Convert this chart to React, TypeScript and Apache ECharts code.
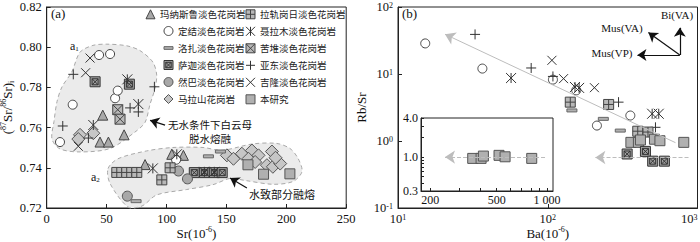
import React, { useEffect, useRef } from 'react';
import * as echarts from 'echarts';

const SERIF = '"Liberation Serif", "DejaVu Serif", serif';
const CJK = '"Noto Sans CJK SC", "Noto Sans", sans-serif';

// ---------------- names ----------------
const NAMES: Record<string, string> = {
  manaslu: '玛纳斯鲁淡色花岗岩',
  lagoi: '拉轨岗日淡色花岗岩',
  dingjie: '定结淡色花岗岩',
  nyalam: '聂拉木淡色花岗岩',
  lhozhag: '洛扎淡色花岗岩',
  kuday: '苦堆淡色花岗岩',
  sakya: '萨迦淡色花岗岩',
  yadong: '亚东淡色花岗岩',
  ranba: '然巴淡色花岗岩',
  gyirong: '吉隆淡色花岗岩',
  malashan: '马拉山花岗岩',
  study: '本研究',
};

// ---------------- panel (a): Sr (10^-6) vs (87Sr/86Sr)i ----------------
const aManaslu = [[46.8, 0.7662], [44.5, 0.7528], [51.5, 0.7528], [64.6, 0.7564], [82.1, 0.7416], [104.4, 0.7467], [114.1, 0.7462]];
const aDingjie = [[43.7, 0.7961], [52.9, 0.7966], [21.7, 0.7714], [57.1, 0.7746], [59.3, 0.7784], [11.1, 0.7528], [108.0, 0.7440]];
const aLhozhag = [[135.0, 0.7457], [74.6, 0.7234], [145.0, 0.7481]];
const aSakya = [[40.4, 0.7828], [69.0, 0.7816], [123.2, 0.7376], [131.6, 0.7376], [139.9, 0.7376], [146.5, 0.7376]];
const aKuday = [[59.3, 0.7689], [61.2, 0.7642]];
const aRanba = [[110.0, 0.7384], [117.5, 0.7345], [67.3, 0.7259]];
const aMalashan = [[27.8, 0.7564], [26.4, 0.7543], [38.9, 0.7572], [150.4, 0.7462], [155.9, 0.7445], [162.9, 0.7470], [171.3, 0.7486], [168.4, 0.7445], [176.8, 0.7462], [174.0, 0.7429], [188.0, 0.7481], [183.8, 0.7413], [188.8, 0.7405], [194.9, 0.7421], [191.0, 0.7450]];
const aLagoi = [[58.5, 0.7377], [66.8, 0.7377], [75.2, 0.7377], [96.1, 0.7340], [103.0, 0.7400]];
const aNyalam = [[76.5, 0.7717], [38.9, 0.7613], [88.6, 0.7397], [108.6, 0.7467], [131.6, 0.7380], [139.9, 0.7380], [67.3, 0.7840]];
const aYadong = [[22.2, 0.7865], [89.9, 0.7803], [69.6, 0.7698], [76.5, 0.7678], [13.4, 0.7608], [34.8, 0.7548]];
const aGyirong = [[36.2, 0.7946], [32.5, 0.7873], [26.4, 0.7507]];
const aStudy = [[168.0, 0.7415], [181.0, 0.7368], [203.0, 0.7370]];

// field outlines in (a)
const a1Outline = [[20.9, 0.7876], [27.8, 0.7975], [38.6, 0.8009], [50.3, 0.8015], [66.8, 0.8007], [77.9, 0.7983], [88.7, 0.7925], [91.8, 0.7862], [90.4, 0.7795], [86.2, 0.7715], [82.1, 0.7626], [73.7, 0.7578], [52.8, 0.7496], [27.8, 0.7479], [11.1, 0.7494], [4.4, 0.7543], [6.1, 0.7631], [8.6, 0.7729], [12.8, 0.7803]];
const a2Outline = [[51.2, 0.7396], [59.5, 0.7445], [83.5, 0.7484], [105.4, 0.7501], [130.5, 0.7501], [146.3, 0.7487], [172.2, 0.7519], [192.2, 0.7521], [203.1, 0.7496], [209.8, 0.7447], [213.1, 0.7381], [205.6, 0.7332], [188.9, 0.7318], [165.5, 0.7337], [153.0, 0.7347], [138.8, 0.7316], [116.9, 0.7292], [91.8, 0.7265], [79.6, 0.7210], [67.9, 0.7205], [52.8, 0.7323]];
const aArrows = [[[98.8, 0.7612], [86.3, 0.7636]], [[167.1, 0.7300], [153.1, 0.7349]]];

// ---------------- panel (b): Ba (10^-6) vs Rb/Sr ----------------
const bDingjie = [[15.2, 28.6], [36.6, 12.05], [108.3, 8.24], [155, 5.7], [356, 2.4], [213, 1.7]];
const bYadong = [[32.7, 39.0], [77.5, 12.3], [108.3, 9.2], [297, 3.8], [524, 1.6]];
const bNyalam = [[56.9, 8.71], [152, 6.4], [162, 6.2], [498, 2.55], [551, 2.55]];
const bGyirong = [[106.6, 16.0], [127.5, 8.53], [205, 6.25]];
const bLagoi = [[141.4, 3.8], [255, 3.51], [399, 1.4], [467, 1.36]];
const bLhozhag = [[145, 2.86], [235, 2.14], [305, 1.43]];
const bSakya = [[339, 0.64], [449, 0.70], [502, 0.50], [601, 0.50]];
const studyBa = [359, 403, 416, 516, 561, 810];
const studyRbSr = [0.954, 0.954, 1.036, 1.063, 1.01, 0.954];

const bTrend = [[713, 0.944], [20.6, 39.2]];
const bDashed = [[871, 0.568], [208, 0.568]];
const bVectorOrigin = [762, 19.2];
const bVectorEnds = [[762, 49.1], [470, 41.5], [397, 19.2]];

// inset
const insetBaRange = [176, 1086];
const insetRatioRange = [0.3, 4.0];
const insetBaLabels = [200, 500, 1000];
const insetBaTicks = [200, 300, 400, 500, 600, 700, 800, 900, 1000];
const insetRatioLabels = [0.3, 1.0, 4.0];
const insetRatioTicks = [0.3, 0.4, 0.5, 0.6, 0.7, 0.8, 0.9, 1, 2, 3, 4];
const insetArrow = [[973, 1.0], [245, 1.0]];

// ---------------- symbol styles ----------------
const STY: Record<string, any> = {
  manaslu: { symbol: 'triangle', size: 10, fill: '#a9a9a9', stroke: '#444' },
  lagoi: { symbol: 'path://M0,0H10V10H0Z M5,0V10 M0,5H10', size: 10, fill: '#b8b8b8', stroke: '#444' },
  dingjie: { symbol: 'circle', size: 9, fill: '#ffffff', stroke: '#444' },
  nyalam: { symbol: 'path://M0,0L10,10M10,0L0,10M5,0V10', size: 10, fill: 'rgba(0,0,0,0)', stroke: '#333' },
  lhozhag: { symbol: 'path://M0,0M10,10M0,3.5H10V6.5H0Z', size: 10, fill: '#b0b0b0', stroke: '#666' },
  kuday: { symbol: 'path://M0,0H10V10H0Z M0,0L10,10 M10,0L0,10', size: 10, fill: '#b8b8b8', stroke: '#444' },
  sakya: { symbol: 'path://M0,0H10V10H0Z M2,2H8V8H2Z M2,2L8,8 M8,2L2,8', size: 10, fill: '#a0a0a0', stroke: '#333' },
  yadong: { symbol: 'path://M5,0V10M0,5H10', size: 10, fill: 'rgba(0,0,0,0)', stroke: '#333' },
  ranba: { symbol: 'circle', size: 10, fill: '#a8a8a8', stroke: '#555' },
  gyirong: { symbol: 'path://M0,0L10,10M10,0L0,10', size: 9, fill: 'rgba(0,0,0,0)', stroke: '#333' },
  malashan: { symbol: 'diamond', size: 13, fill: '#c6c6c6', stroke: '#555' },
  study: { symbol: 'rect', size: 10, fill: '#b0b0b0', stroke: '#555' },
};

const lg = Math.log10;

function scatter(key: string, data: number[][], idx: number) {
  const s = STY[key];
  return {
    type: 'scatter',
    name: NAMES[key],
    xAxisIndex: idx,
    yAxisIndex: idx,
    data,
    symbol: s.symbol,
    symbolSize: s.size,
    itemStyle: { color: s.fill, borderColor: s.stroke, borderWidth: 1, opacity: 1 },
    emphasis: { disabled: true },
    z: 3,
  };
}

function region(outline: number[][]) {
  return {
    type: 'custom',
    xAxisIndex: 0,
    yAxisIndex: 0,
    silent: true,
    z: 1,
    data: [outline[0]],
    renderItem: (_p: any, api: any) => ({
      type: 'polygon',
      shape: { points: outline.map((p) => api.coord(p)), smooth: 0.3 },
      style: { fill: '#ebebeb', stroke: '#a9a9a9', lineWidth: 1, lineDash: [4, 3] },
    }),
  };
}

function arrows(idx: number, list: number[][][], color: string, type: string, width: number, size: number) {
  return {
    type: 'lines',
    coordinateSystem: 'cartesian2d',
    xAxisIndex: idx,
    yAxisIndex: idx,
    silent: true,
    z: 4,
    symbol: ['none', 'arrow'],
    symbolSize: size,
    lineStyle: { color, width, type, opacity: 1, curveness: 0 },
    data: list.map((c) => ({ coords: c })),
  };
}

const axisColor = '#222';
const supRich = {
  sup: { fontFamily: SERIF, fontSize: 8, color: '#111', verticalAlign: 'top', lineHeight: 8 },
  sub: { fontFamily: SERIF, fontSize: 8, color: '#111', verticalAlign: 'bottom', lineHeight: 8 },
};
const nameStyle = { fontFamily: SERIF, fontSize: 13, color: '#111', lineHeight: 16, rich: supRich };
const labelStyle = { fontFamily: SERIF, fontSize: 12.5, color: '#111', margin: 5, lineHeight: 12 };
const lineCfg = { show: true, onZero: false, lineStyle: { color: axisColor, width: 1 } };
const tickCfg = { show: true, inside: true, length: 4, lineStyle: { color: axisColor } };

const GRID_TOP = 7;
const GRID_H = 201;

function buildOption() {
  const pow10Label = (v: number) => '10{sup|' + Math.round(lg(v)) + '}';
  const legendCommon = {
    orient: 'vertical',
    itemWidth: 9,
    itemHeight: 9,
    itemGap: 7,
    padding: 0,
    selectedMode: false,
    textStyle: { fontFamily: CJK, fontSize: 9.5, color: '#222' },
    itemStyle: { borderWidth: 1 },
  };
  const study = studyBa.map((b, i) => [b, studyRbSr[i]]);
  const studyInset = studyBa.map((b, i) => [lg(b), lg(studyRbSr[i])]);

  return {
    animation: false,
    backgroundColor: '#ffffff',
    grid: [
      { left: 46.7, top: GRID_TOP, width: 299.5, height: GRID_H, show: true, borderColor: axisColor, borderWidth: 1, backgroundColor: 'transparent', outerBoundsMode: 'none', containLabel: false },
      { left: 398, top: GRID_TOP, width: 299.5, height: GRID_H, show: true, borderColor: axisColor, borderWidth: 1, backgroundColor: 'transparent', outerBoundsMode: 'none', containLabel: false },
      { left: 421, top: 118, width: 132, height: 73, show: true, borderColor: axisColor, borderWidth: 1, backgroundColor: '#ffffff', outerBoundsMode: 'none', containLabel: false },
    ],
    xAxis: [
      {
        gridIndex: 0, type: 'value', min: 0, max: 250, interval: 50,
        axisLine: lineCfg, axisTick: tickCfg, splitLine: { show: false },
        axisLabel: labelStyle,
        name: 'Sr(10{sup|-6})', nameLocation: 'middle', nameGap: 17, nameTextStyle: nameStyle, nameMoveOverlap: false,
      },
      {
        gridIndex: 1, type: 'log', logBase: 10, min: 10, max: 1000,
        axisLine: lineCfg, axisTick: tickCfg, splitLine: { show: false }, minorTick: { show: false },
        axisLabel: { ...labelStyle, formatter: pow10Label, rich: supRich, alignMaxLabel: 'right' },
        name: 'Ba(10{sup|-6})', nameLocation: 'middle', nameGap: 17, nameTextStyle: nameStyle, nameMoveOverlap: false,
      },
      {
        gridIndex: 2, type: 'value', min: lg(insetBaRange[0]), max: lg(insetBaRange[1]),
        axisLine: lineCfg,
        axisTick: { ...tickCfg, length: 3, customValues: insetBaTicks.map(lg) },
        splitLine: { show: false },
        axisLabel: {
          fontFamily: SERIF, fontSize: 12, color: '#111', margin: 3,
          customValues: insetBaLabels.map(lg),
          formatter: (v: number) => { const r = Math.round(Math.pow(10, v)); return r >= 1000 ? '1 000' : String(r); },
        },
      },
    ],
    yAxis: [
      {
        gridIndex: 0, type: 'value', min: 0.72, max: 0.82, interval: 0.02,
        axisLine: lineCfg, axisTick: tickCfg, splitLine: { show: false },
        axisLabel: { ...labelStyle, formatter: (v: number) => v.toFixed(2) },
        name: '({sup|87}Sr/{sup|86}Sr){sub|i}', nameLocation: 'middle', nameGap: 31, nameTextStyle: nameStyle, nameMoveOverlap: false,
      },
      {
        gridIndex: 1, type: 'log', logBase: 10, min: 0.1, max: 100,
        axisLine: lineCfg, axisTick: tickCfg, splitLine: { show: false }, minorTick: { show: false },
        axisLabel: { ...labelStyle, formatter: pow10Label, rich: supRich },
        name: 'Rb/Sr', nameLocation: 'middle', nameGap: 29, nameTextStyle: nameStyle, nameMoveOverlap: false,
      },
      {
        gridIndex: 2, type: 'value', min: lg(insetRatioRange[0]), max: lg(insetRatioRange[1]),
        axisLine: lineCfg,
        axisTick: { ...tickCfg, length: 3, customValues: insetRatioTicks.map(lg) },
        splitLine: { show: false },
        axisLabel: {
          fontFamily: SERIF, fontSize: 12, color: '#111', margin: 3,
          customValues: insetRatioLabels.map(lg),
          formatter: (v: number) => Math.pow(10, v).toFixed(1),
        },
      },
    ],
    legend: [
      { ...legendCommon, left: 145.5, top: 9.3, data: [NAMES.manaslu] },
      { ...legendCommon, left: 163.5, top: 26, data: [NAMES.dingjie, NAMES.lhozhag, NAMES.sakya, NAMES.ranba, NAMES.malashan] },
      { ...legendCommon, left: 245.5, top: 9.3, data: [NAMES.lagoi, NAMES.nyalam, NAMES.kuday, NAMES.yadong, NAMES.gyirong, NAMES.study] },
    ],
    graphic: [
      { type: 'text', left: 51, top: 7, style: { text: '(a)', font: `13px ${SERIF}`, fill: '#111' } },
      { type: 'text', left: 402, top: 7, style: { text: '(b)', font: `13px ${SERIF}`, fill: '#111' } },
      { type: 'text', left: 70, top: 40, style: { text: 'a{sub|1}', font: `12px ${SERIF}`, fill: '#111', rich: { sub: { fontSize: 7, fontFamily: SERIF, verticalAlign: 'bottom', fill: '#111' } } } },
      { type: 'text', left: 91, top: 171, style: { text: 'a{sub|2}', font: `12px ${SERIF}`, fill: '#111', rich: { sub: { fontSize: 7, fontFamily: SERIF, verticalAlign: 'bottom', fill: '#111' } } } },
      { type: 'text', x: 210, y: 131, style: { text: '无水条件下白云母\n脱水熔融', font: `10.5px ${CJK}`, fill: '#111', align: 'center', verticalAlign: 'middle', lineHeight: 14 } },
      { type: 'text', x: 282, y: 194, style: { text: '水致部分融熔', font: `11px ${CJK}`, fill: '#111', align: 'center', verticalAlign: 'middle' } },
      { type: 'text', x: 677, y: 15, style: { text: 'Bi(VA)', font: `11px ${SERIF}`, fill: '#111', align: 'center', verticalAlign: 'middle' } },
      { type: 'text', x: 622, y: 28, style: { text: 'Mus(VA)', font: `11px ${SERIF}`, fill: '#111', align: 'center', verticalAlign: 'middle' } },
      { type: 'text', x: 612, y: 53, style: { text: 'Mus(VP)', font: `11px ${SERIF}`, fill: '#111', align: 'center', verticalAlign: 'middle' } },
    ],
    series: [
      region(a1Outline),
      region(a2Outline),
      scatter('malashan', aMalashan, 0),
      scatter('manaslu', aManaslu, 0),
      scatter('dingjie', aDingjie, 0),
      scatter('lhozhag', aLhozhag, 0),
      scatter('kuday', aKuday, 0),
      scatter('sakya', aSakya, 0),
      scatter('ranba', aRanba, 0),
      scatter('lagoi', aLagoi, 0),
      scatter('nyalam', aNyalam, 0),
      scatter('yadong', aYadong, 0),
      scatter('gyirong', aGyirong, 0),
      scatter('study', aStudy, 0),
      arrows(0, aArrows, '#111', 'solid', 1.2, 9),

      arrows(1, [bTrend], '#bdbdbd', 'solid', 1, 10),
      arrows(1, [bDashed], '#bdbdbd', 'dashed', 1, 10),
      arrows(1, bVectorEnds.map((e) => [bVectorOrigin, e]), '#111', 'solid', 1.2, 9),
      scatter('dingjie', bDingjie, 1),
      scatter('yadong', bYadong, 1),
      scatter('nyalam', bNyalam, 1),
      scatter('gyirong', bGyirong, 1),
      scatter('lhozhag', bLhozhag, 1),
      scatter('lagoi', bLagoi, 1),
      scatter('study', study, 1),
      scatter('sakya', bSakya, 1),

      arrows(2, [insetArrow.map((p) => [lg(p[0]), lg(p[1])])], '#bdbdbd', 'dashed', 1, 10),
      scatter('study', studyInset, 2),
    ],
  };
}

export default function App() {
  const ref = useRef<HTMLDivElement>(null);
  useEffect(() => {
    if (!ref.current) return;
    const chart = echarts.init(ref.current, null, { renderer: 'svg' });
    chart.setOption(buildOption() as any);
    return () => chart.dispose();
  }, []);
  return (
    <div
      ref={ref}
      style={{ position: 'fixed', left: 0, top: 0, width: 700, height: 242, background: '#fff' }}
    />
  );
}
